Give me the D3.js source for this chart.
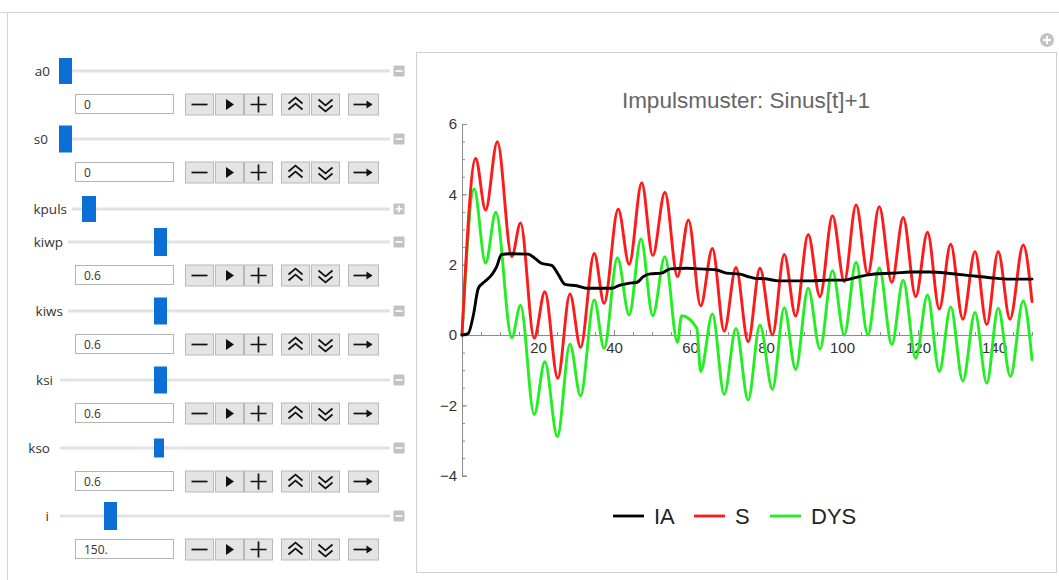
<!DOCTYPE html>
<html>
<head>
<meta charset="utf-8">
<script src="https://cdn.jsdelivr.net/npm/d3@7"></script>
<style>
  html, body { margin: 0; padding: 0; background: #ffffff; }
  svg { display: block; }
</style>
</head>
<body>
<svg id="chart" width="1059" height="580"></svg>
<script>
// ---------------- DATA ----------------
const chartTitle = "Impulsmuster: Sinus[t]+1";
const seriesNames = ["IA", "S", "DYS"];
const seriesColors = ["#000000", "#ff1a1a", "#22ee22"];

// IA (black)
const tIA = [0, 1.6, 3.0, 4.3, 6.0, 7.8, 9.1, 10.4, 13, 17.4, 19.2, 20.9, 23.6, 25.4, 27.1, 30.2, 32.8, 37.2, 39.4, 41.6, 43.8, 46.1, 47.7, 49.5, 52.5, 54.8, 59.1, 62.6, 67.0, 69.6, 73.2, 75.3, 77.1, 79.7, 83.2, 87.6, 92.0, 96.4, 100.8, 103.4, 106.9, 111.3, 113.8, 117.9, 123.2, 128.4, 133.7, 139.0, 144.2, 150];
const vIA = [0, 0.04, 0.57, 1.33, 1.52, 1.71, 1.94, 2.29, 2.31, 2.3, 2.18, 2.04, 1.98, 1.71, 1.44, 1.40, 1.33, 1.33, 1.33, 1.42, 1.47, 1.5, 1.66, 1.74, 1.76, 1.88, 1.9, 1.88, 1.85, 1.76, 1.73, 1.66, 1.61, 1.6, 1.54, 1.54, 1.54, 1.56, 1.56, 1.63, 1.71, 1.75, 1.76, 1.79, 1.79, 1.75, 1.69, 1.63, 1.59, 1.59];

// S (red)
const tS = [0, 3.6, 6.2, 9.3, 13.1, 15.4, 19.0, 21.8, 25.2, 28.4, 31.2, 34.8, 37.4, 41.1, 44.0, 47.3, 50.2, 53.4, 56.7, 59.6, 62.8, 65.9, 69.0, 72.1, 75.3, 78.4, 81.7, 84.8, 87.8, 91.1, 94.2, 97.5, 100.6, 103.7, 106.8, 109.8, 113.1, 116.1, 119.4, 122.5, 125.6, 128.6, 131.8, 135.0, 138.1, 141.1, 144.2, 147.7, 150];
const vS = [0, 5.02, 3.55, 5.5, 2.23, 3.19, -0.09, 1.23, -1.23, 1.17, -0.35, 2.32, 0.9, 3.58, 2.01, 4.33, 2.26, 4.06, 1.66, 3.27, 0.83, 2.46, 0.11, 1.92, -0.19, 1.9, 0.0, 2.29, 0.54, 2.86, 1.09, 3.39, 1.52, 3.70, 1.73, 3.65, 1.5, 3.34, 1.09, 2.92, 0.74, 2.58, 0.45, 2.37, 0.3, 2.37, 0.45, 2.56, 0.95];

// DYS (green)
const tDYS = [0, 3.2, 6.2, 8.9, 13.1, 15.4, 19.0, 21.8, 25.1, 28.4, 31.2, 34.8, 37.4, 40.9, 44.0, 47.1, 50.2, 53.4, 56.7, 57.8, 61.8, 62.8, 65.9, 69.0, 72.1, 75.3, 78.4, 81.7, 84.8, 87.8, 91.1, 94.2, 97.5, 100.6, 103.7, 106.8, 109.8, 113.1, 116.1, 119.4, 122.5, 125.6, 128.6, 131.8, 135.0, 138.1, 141.1, 144.3, 147.7, 150];
const vDYS = [0, 4.15, 2.04, 3.49, -0.08, 0.85, -2.26, -0.76, -2.89, -0.26, -1.73, 1.0, -0.38, 2.2, 0.57, 2.73, 0.55, 2.23, -0.21, 0.55, 0.19, -1.04, 0.6, -1.69, 0.19, -1.85, 0.28, -1.54, 0.78, -0.98, 1.33, -0.4, 1.83, 0.0, 2.07, 0.0, 1.91, -0.27, 1.56, -0.66, 1.14, -1.04, 0.8, -1.31, 0.64, -1.37, 0.76, -1.18, 0.97, -0.7];

// Axis ticks
const xMajorTicks = [20, 40, 60, 80, 100, 120, 140];
const xMinorTicks = d3.range(5, 151, 5);
const yMajorTicks = [-4, -2, 0, 2, 4, 6];
const yMinorTicks = d3.range(-4, 6.01, 0.5);

// Controls panel (Manipulate)
const controlNames = ["a0", "s0", "kpuls", "kiwp", "kiws", "ksi", "kso", "i"];
const controlFields = ["0", "0", null, "0.6", "0.6", "0.6", "0.6", "150."];
const controlOpen = [true, true, false, true, true, true, true, true];

// ---------------- LAYOUT ----------------
const svg = d3.select("#chart");
const W = 1059, H = 580;
const plotFont = "'Liberation Sans', Arial, sans-serif";
const uiFont = "'Open Sans', 'Noto Sans', sans-serif";

// outer frame
svg.append("line").attr("x1", 0).attr("x2", W).attr("y1", 12.5).attr("y2", 12.5)
  .attr("stroke", "#d4d4d4").attr("stroke-width", 1);
svg.append("line").attr("x1", 7.5).attr("x2", 7.5).attr("y1", 12.5).attr("y2", H)
  .attr("stroke", "#d4d4d4").attr("stroke-width", 1);

// top-right plus icon
const plusIcon = svg.append("g").attr("transform", "translate(1047,40)");
plusIcon.append("circle").attr("r", 7).attr("fill", "#c4c4c4");
plusIcon.append("path").attr("d", "M-4,0H4M0,-4V4").attr("stroke", "#fff").attr("stroke-width", 2);

// ---------------- CONTROLS ----------------
const rowSliderY = [71, 139, 209, 242, 311, 380, 448, 516];
const labelEndX = [50, 48, 67, 63, 63, 53, 50, 49];
const trackStartX = [60, 60, 72, 68, 68, 60, 60, 60];
const thumbBox = [[59, 13, 26], [59, 13, 27], [82, 14, 26], [154, 13, 28], [154, 13, 27], [154, 13, 27], [154, 10, 19], [104, 13, 28]];

const ctrl = svg.append("g");
controlNames.forEach((name, i) => {
  const y = rowSliderY[i];
  ctrl.append("text").attr("x", labelEndX[i]).attr("y", y + 4.5)
    .attr("text-anchor", "end").attr("font-family", uiFont).attr("font-size", 13.5)
    .attr("fill", "#333").text(name);
  ctrl.append("rect").attr("x", trackStartX[i]).attr("y", y - 1.5)
    .attr("width", 390 - trackStartX[i]).attr("height", 3).attr("fill", "#e2e2e2");
  const tb = thumbBox[i];
  ctrl.append("rect").attr("x", tb[0]).attr("y", y - tb[2] / 2)
    .attr("width", tb[1]).attr("height", tb[2]).attr("fill", "#0b6fd6");
  // open/close icon
  const ic = ctrl.append("g").attr("transform", `translate(399,${y})`);
  ic.append("rect").attr("x", -5.5).attr("y", -5.5).attr("width", 11).attr("height", 11)
    .attr("rx", 1).attr("fill", "#c2c2c2");
  ic.append("path").attr("d", controlOpen[i] ? "M-3.5,0H3.5" : "M-3.5,0H3.5M0,-3.5V3.5")
    .attr("stroke", "#fff").attr("stroke-width", 1.6);

  if (controlFields[i] !== null) {
    const fy = y + 33;
    ctrl.append("rect").attr("x", 75.5).attr("y", fy - 9.5).attr("width", 98).attr("height", 19)
      .attr("fill", "#fff").attr("stroke", "#b4b4b4");
    ctrl.append("text").attr("x", 84).attr("y", fy + 4.5).attr("font-family", uiFont)
      .attr("font-size", 12).attr("fill", "#333").text(controlFields[i]);
    const btnX = [[185, 28], [215, 28], [244, 28], [281, 28], [311, 28], [348, 30]];
    btnX.forEach((b, k) => {
      const g = ctrl.append("g").attr("transform", `translate(${b[0]},${fy - 10.5})`);
      g.append("rect").attr("x", 0.5).attr("y", 0.5).attr("width", b[1]).attr("height", 21)
        .attr("fill", "#e4e4e4").attr("stroke", "#b8b8b8");
      const cx = b[1] / 2 + 0.5, cy = 11;
      let p;
      if (k === 0) p = `M${cx - 8},${cy}H${cx + 8}`;
      else if (k === 2) p = `M${cx - 8},${cy}H${cx + 8}M${cx},${cy - 8}V${cy + 8}`;
      else if (k === 3) p = `M${cx - 7},${cy - 1}L${cx},${cy - 7}L${cx + 7},${cy - 1}M${cx - 7},${cy + 5}L${cx},${cy - 1}L${cx + 7},${cy + 5}`;
      else if (k === 4) p = `M${cx - 7},${cy - 5}L${cx},${cy + 1}L${cx + 7},${cy - 5}M${cx - 7},${cy + 1}L${cx},${cy + 7}L${cx + 7},${cy + 1}`;
      else if (k === 5) p = `M${cx - 10},${cy}H${cx + 8}`;
      if (k === 1) {
        g.append("path").attr("d", `M${cx - 3.5},${cy - 5.5}L${cx + 4.5},${cy}L${cx - 3.5},${cy + 5.5}Z`).attr("fill", "#111");
      } else {
        g.append("path").attr("d", p).attr("stroke", "#111").attr("stroke-width", 1.7).attr("fill", "none");
      }
      if (k === 5) {
        g.append("path").attr("d", `M${cx + 3},${cy - 4}L${cx + 9},${cy}L${cx + 3},${cy + 4}Z`).attr("fill", "#111");
      }
    });
  }
});

// ---------------- PLOT ----------------
svg.append("rect").attr("x", 416.5).attr("y", 52.5).attr("width", 640).attr("height", 520)
  .attr("fill", "#fff").attr("stroke", "#cfcfcf");

svg.append("text").attr("x", 746).attr("y", 108).attr("text-anchor", "middle")
  .attr("font-family", plotFont).attr("font-size", 22.5).attr("fill", "#666")
  .text(chartTitle);

const x = d3.scaleLinear().domain([0, 150]).range([462, 1032]);
const y = d3.scaleLinear().domain([-4, 6]).range([475.7, 124]);

const axisColor = "#8c8c8c";
function styleAxis(g) {
  g.select(".domain").attr("stroke", axisColor);
  g.selectAll(".tick line").attr("stroke", axisColor);
  g.selectAll(".tick text").attr("fill", "#333").attr("font-family", plotFont).attr("font-size", 15);
}

// x minor ticks
svg.append("g").attr("transform", `translate(0,${y(0)})`)
  .call(d3.axisBottom(x).tickValues(xMinorTicks).tickSizeInner(-3).tickSizeOuter(0).tickFormat(""))
  .call(styleAxis);
// x major
svg.append("g").attr("transform", `translate(0,${y(0)})`)
  .call(d3.axisBottom(x).tickValues(xMajorTicks).tickSizeInner(-5).tickSizeOuter(0).tickPadding(7).tickFormat(d3.format("d")))
  .call(styleAxis);
// y minor
svg.append("g").attr("transform", `translate(${x(0)},0)`)
  .call(d3.axisLeft(y).tickValues(yMinorTicks).tickSizeInner(-3).tickSizeOuter(0).tickFormat(""))
  .call(styleAxis);
// y major
svg.append("g").attr("transform", `translate(${x(0)},0)`)
  .call(d3.axisLeft(y).tickValues(yMajorTicks).tickSizeInner(-5).tickSizeOuter(-5).tickPadding(5)
    .tickFormat(d => d < 0 ? "\u2212" + Math.abs(d) : String(d)))
  .call(styleAxis);

const seriesT = [tIA, tS, tDYS];
const seriesV = [vIA, vS, vDYS];
const line = d3.line().x(d => x(d[0])).y(d => y(d[1])).curve(d3.curveMonotoneX);
[2, 1, 0].forEach(k => {
  const pts = seriesT[k].map((t, j) => [t, seriesV[k][j]]);
  svg.append("path").datum(pts).attr("d", line)
    .attr("fill", "none").attr("stroke", seriesColors[k]).attr("stroke-width", 2.9)
    .attr("stroke-linejoin", "round").attr("stroke-linecap", "round");
});

// legend
const legendX = [613, 694, 770];
const legendG = svg.append("g");
seriesNames.forEach((n, k) => {
  legendG.append("line").attr("x1", legendX[k]).attr("x2", legendX[k] + 31)
    .attr("y1", 516).attr("y2", 516).attr("stroke", seriesColors[k]).attr("stroke-width", 2.8);
  legendG.append("text").attr("x", legendX[k] + 41).attr("y", 524)
    .attr("font-family", plotFont).attr("font-size", 22).attr("fill", "#222").text(n);
});
</script>
</body>
</html>
